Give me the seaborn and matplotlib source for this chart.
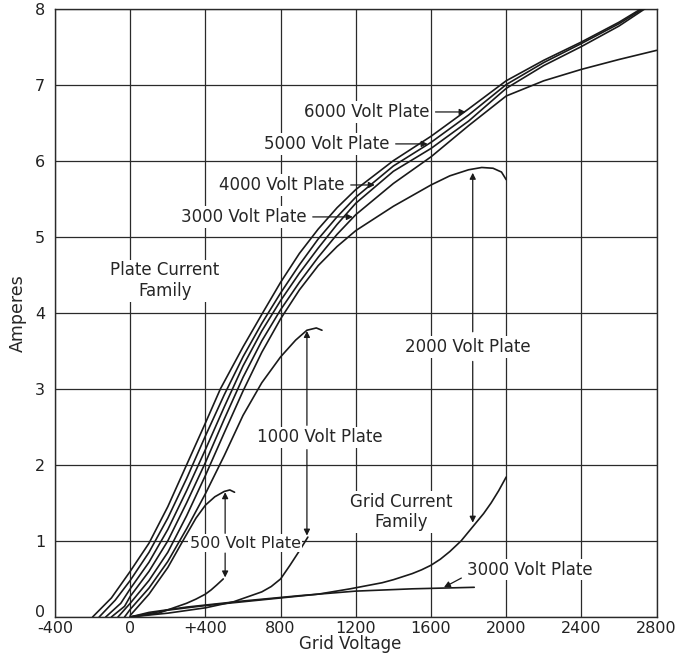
import matplotlib
matplotlib.use("Agg")
import matplotlib.pyplot as plt
import matplotlib.transforms as mtrans
import seaborn as sns

# Plate current family (grid voltage, amperes)
plate_6000_v = [-200, -100, 0, 100, 200, 300, 400, 480, 600, 705, 800, 900, 1000, 1100, 1200, 1400, 1600, 1800, 2000, 2200, 2400, 2600, 2720]
plate_6000_a = [0, 0.25, 0.6, 0.97, 1.45, 2.0, 2.55, 3.0, 3.55, 4.0, 4.4, 4.78, 5.1, 5.38, 5.62, 6.0, 6.32, 6.68, 7.05, 7.32, 7.56, 7.82, 8.0]

plate_5000_v = [-165, -80, 0, 100, 200, 300, 400, 500, 600, 700, 800, 900, 1000, 1100, 1200, 1400, 1600, 1800, 2000, 2200, 2400, 2600, 2730]
plate_5000_a = [0, 0.22, 0.48, 0.85, 1.3, 1.82, 2.38, 2.92, 3.42, 3.86, 4.26, 4.63, 4.97, 5.26, 5.52, 5.93, 6.24, 6.6, 7.0, 7.29, 7.54, 7.8, 8.0]

plate_4000_v = [-130, -50, 0, 100, 200, 300, 400, 500, 600, 700, 800, 900, 1000, 1100, 1200, 1400, 1600, 1800, 2000, 2200, 2400, 2600, 2740]
plate_4000_a = [0, 0.18, 0.37, 0.72, 1.15, 1.66, 2.2, 2.76, 3.3, 3.76, 4.16, 4.52, 4.85, 5.16, 5.44, 5.86, 6.16, 6.52, 6.95, 7.25, 7.5, 7.77, 8.0]

plate_3000_v = [-100, -30, 0, 100, 200, 300, 400, 500, 600, 700, 800, 900, 1000, 1100, 1200, 1400, 1600, 1800, 2000, 2200, 2400, 2600, 2800]
plate_3000_a = [0, 0.14, 0.27, 0.6, 1.0, 1.5, 2.03, 2.6, 3.15, 3.63, 4.04, 4.4, 4.73, 5.03, 5.29, 5.7, 6.05, 6.46, 6.85, 7.05, 7.2, 7.33, 7.45]

plate_2000_v = [-65, 0, 100, 200, 300, 400, 500, 600, 700, 800, 900, 1000, 1100, 1200, 1400, 1600, 1700, 1800, 1870, 1930, 1975, 2000]
plate_2000_a = [0, 0.18, 0.48, 0.85, 1.33, 1.86, 2.42, 2.97, 3.48, 3.92, 4.3, 4.62, 4.87, 5.08, 5.4, 5.68, 5.8, 5.88, 5.91, 5.9, 5.85, 5.75]

plate_1000_v = [-30, 0, 100, 200, 300, 400, 500, 600, 700, 800, 880, 940, 990, 1020]
plate_1000_a = [0, 0.1, 0.38, 0.73, 1.16, 1.62, 2.12, 2.65, 3.08, 3.42, 3.64, 3.77, 3.8, 3.77]

plate_500_v = [0, 100, 200, 280, 350, 400, 450, 500, 530, 555]
plate_500_a = [0.02, 0.3, 0.65, 1.0, 1.3, 1.47, 1.58, 1.65, 1.67, 1.64]

# Grid current family
grid_500_v = [0, 150, 300, 350, 400, 430, 460, 495]
grid_500_a = [0, 0.05, 0.18, 0.235, 0.3, 0.355, 0.42, 0.5]

grid_1000_v = [0, 200, 400, 550, 700, 750, 800, 850, 900, 945]
grid_1000_a = [0, 0.05, 0.12, 0.2, 0.33, 0.4, 0.5, 0.68, 0.87, 1.05]

grid_2000_v = [0, 200, 400, 600, 800, 1000, 1170, 1340, 1400, 1500, 1550, 1600, 1650, 1700, 1760, 1840, 1880, 1920, 1960, 2000]
grid_2000_a = [0, 0.09, 0.15, 0.2, 0.25, 0.3, 0.37, 0.45, 0.49, 0.57, 0.62, 0.68, 0.76, 0.86, 1.0, 1.24, 1.36, 1.5, 1.66, 1.84]

grid_3000_v = [0, 100, 300, 600, 900, 1200, 1500, 1830]
grid_3000_a = [0, 0.06, 0.13, 0.21, 0.28, 0.34, 0.37, 0.39]

x_ticks = [-400, 0, 400, 800, 1200, 1600, 2000, 2400, 2800]
x_tick_labels = ["-400", "0", "+400", "800", "1200", "1600", "2000", "2400", "2800"]
y_ticks = [0, 1, 2, 3, 4, 5, 6, 7, 8]

sns.set_style("white")
plt.rcParams["font.family"] = ["DejaVu Sans"]

fig = plt.figure(figsize=(6.79, 6.56), dpi=100)
ax = fig.add_axes([0.081, 0.0595, 0.886, 0.9275])

curves = [
    (plate_6000_v, plate_6000_a), (plate_5000_v, plate_5000_a),
    (plate_4000_v, plate_4000_a), (plate_3000_v, plate_3000_a),
    (plate_2000_v, plate_2000_a), (plate_1000_v, plate_1000_a),
    (plate_500_v, plate_500_a),
    (grid_500_v, grid_500_a), (grid_1000_v, grid_1000_a),
    (grid_2000_v, grid_2000_a), (grid_3000_v, grid_3000_a),
]
for xs, ys in curves:
    sns.lineplot(x=xs, y=ys, ax=ax, color="#1a1a1a", lw=1.2,
                 estimator=None, sort=False, zorder=3)

ax.set_xlim(-400, 2800)
ax.set_ylim(0, 8)
ax.set_xticks(x_ticks)
ax.set_xticklabels(x_tick_labels)
ax.set_yticks(y_ticks)
ax.grid(True, color="#2a2a2a", lw=0.9)
ax.set_axisbelow(True)
for s in ax.spines.values():
    s.set_color("#2a2a2a")
    s.set_linewidth(1.0)
ax.tick_params(length=0, labelsize=11.5, colors="#222222")
ax.tick_params(axis="x", pad=3)
ax.tick_params(axis="y", pad=7)
# the "0" on the ampere scale sits a little above the -400 label
shift = mtrans.ScaledTranslation(0, 4 / 72, fig.dpi_scale_trans)
y0 = ax.get_yticklabels()[0]
y0.set_transform(y0.get_transform() + shift)

ax.set_xlabel("Grid Voltage", fontsize=12)
ax.xaxis.set_label_coords(0.49, -0.045)
ax.xaxis.label.set_va("center")
ax.set_ylabel("Amperes", fontsize=12.5, labelpad=6)

tbox = dict(boxstyle="square,pad=0.1", fc="white", ec="none")
arr = dict(arrowstyle="-|>", color="#1a1a1a", lw=0.9, mutation_scale=9,
           shrinkA=3, shrinkB=0)

# upper family labels with horizontal leaders
for label, tx, ty, px in [("6000 Volt Plate", 1593, 6.64, 1784),
                          ("5000 Volt Plate", 1381, 6.22, 1582),
                          ("4000 Volt Plate", 1142, 5.68, 1301),
                          ("3000 Volt Plate", 940, 5.26, 1184)]:
    ax.annotate(label, xy=(px, ty), xytext=(tx, ty), ha="right", va="center",
                fontsize=12, bbox=tbox, zorder=5,
                arrowprops=dict(arr, relpos=(1, 0.5)))

# labels with vertical double arrows
for label, tx, ty, ax_x, up_from, up_to, dn_from, dn_to, fs in [
        ("2000 Volt Plate", 1796, 3.55, 1822, 3.75, 5.84, 3.36, 1.24, 12),
        ("1000 Volt Plate", 1009, 2.36, 940, 2.52, 3.76, 2.2, 1.07, 12),
        ("500 Volt Plate", 611, 0.97, 505, 1.1, 1.64, 0.84, 0.52, 11.5)]:
    ax.text(tx, ty, label, ha="center", va="center", fontsize=fs,
            bbox=tbox, zorder=5)
    ax.annotate("", xy=(ax_x, up_to), xytext=(ax_x, up_from),
                arrowprops=dict(arr, shrinkA=0), zorder=4)
    ax.annotate("", xy=(ax_x, dn_to), xytext=(ax_x, dn_from),
                arrowprops=dict(arr, shrinkA=0), zorder=4)

ax.text(185, 4.42, "Plate Current\nFamily", ha="center", va="center",
        fontsize=12, linespacing=1.2, bbox=tbox, zorder=5)
ax.text(1440, 1.38, "Grid Current\nFamily", ha="center", va="center",
        fontsize=12, linespacing=1.2, bbox=tbox, zorder=5)

ax.annotate("3000 Volt Plate", xy=(1669, 0.39), xytext=(1790, 0.62),
            ha="left", va="center", fontsize=12, bbox=tbox, zorder=5,
            arrowprops=dict(arr, relpos=(0, 0.2)))

fig.savefig("out.png", dpi=100)
